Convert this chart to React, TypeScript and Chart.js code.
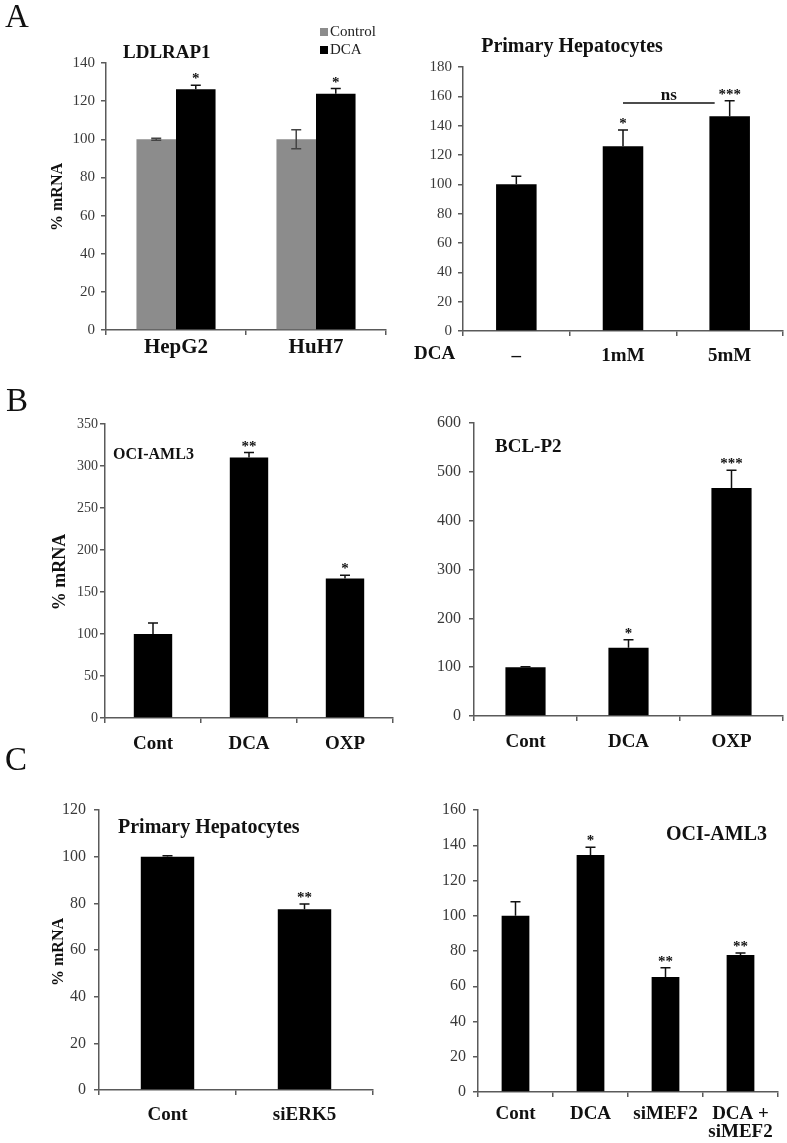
import React, { useEffect, useRef } from "react";
import { Chart, registerables } from "chart.js";
Chart.register(...registerables);

const FONT = '"Liberation Serif", "Times New Roman", Times, serif';

// ---------- Panel A (left): LDLRAP1 ----------
const aLeftCategories = ["HepG2", "HuH7"];
const aLeftControl = [100, 100];
const aLeftControlErr = [0.5, 5];
const aLeftDCA = [126.3, 123.9];
const aLeftDCAErr = [2, 2.7];
const aLeftDCAStars = ["*", "*"];

// ---------- Panel A (right): Primary Hepatocytes ----------
const aRightCategories = ["–", "1mM", "5mM"];
const aRightValues = [100, 126, 146.5];
const aRightErr = [5.5, 11, 10.5];
const aRightStars = ["", "*", "***"];
const aRightNsValue = 155.5;

// ---------- Panel B (left): OCI-AML3 ----------
const bLeftCategories = ["Cont", "DCA", "OXP"];
const bLeftValues = [100, 310, 166];
const bLeftErr = [13, 6, 4];
const bLeftStars = ["", "**", "*"];

// ---------- Panel B (right): BCL-P2 ----------
const bRightCategories = ["Cont", "DCA", "OXP"];
const bRightValues = [100, 140, 467];
const bRightErr = [1, 16, 36];
const bRightStars = ["", "*", "***"];

// ---------- Panel C (left): Primary Hepatocytes ----------
const cLeftCategories = ["Cont", "siERK5"];
const cLeftValues = [100, 77.5];
const cLeftErr = [0.4, 2.2];
const cLeftStars = ["", "**"];

// ---------- Panel C (right): OCI-AML3 ----------
const cRightCategories: (string | string[])[] = ["Cont", "DCA", "siMEF2", ["DCA +", "siMEF2"]];
const cRightValues = [100, 134.5, 65.2, 77.8];
const cRightErr = [8, 4.3, 5.3, 1.1];
const cRightStars = ["", "*", "**", "**"];

type DS = {
  label: string;
  data: number[];
  err: number[];
  color: string;
  errColor: string;
  errBoth?: boolean;
  stars?: string[];
};
type TextItem = {
  text: string;
  x: number;
  y: number;
  size: number;
  bold?: boolean;
  align?: CanvasTextAlign;
  rotate?: boolean;
};
type Spec = {
  left: number;
  top: number;
  width: number;
  height: number;
  yW: number;
  padTop: number;
  padRight: number;
  xH: number;
  labels: (string | string[])[];
  datasets: DS[];
  yMax: number;
  yStep: number;
  yFont: number;
  yPad: number;
  catFont: number;
  catPad: number;
  catLH: number;
  catPct: number;
  barPct: number;
  texts: TextItem[];
  legend?: { x: number; y: number; color: string; text: string }[];
  ns?: { from: number; to: number; value: number; endOffset: number; text: string };
};

const AXIS = "#5a5a5a";

function buildConfig(s: Spec): any {
  const plugin = {
    id: "extras",
    afterDatasetsDraw(chart: any) {
      const ctx = chart.ctx as CanvasRenderingContext2D;
      const ys = chart.scales.y;
      s.datasets.forEach((d, di) => {
        const meta = chart.getDatasetMeta(di);
        d.data.forEach((v, i) => {
          const x = meta.data[i].x;
          const top = ys.getPixelForValue(v + d.err[i]);
          const bot = d.errBoth ? ys.getPixelForValue(v - d.err[i]) : ys.getPixelForValue(v);
          ctx.save();
          ctx.strokeStyle = d.errColor;
          ctx.lineWidth = 1.5;
          ctx.beginPath();
          ctx.moveTo(x, top);
          ctx.lineTo(x, bot);
          ctx.moveTo(x - 5, top);
          ctx.lineTo(x + 5, top);
          if (d.errBoth) {
            ctx.moveTo(x - 5, bot);
            ctx.lineTo(x + 5, bot);
          }
          ctx.stroke();
          if (d.stars && d.stars[i]) {
            ctx.fillStyle = "#111";
            ctx.font = `bold 15px ${FONT}`;
            ctx.textAlign = "center";
            ctx.textBaseline = "alphabetic";
            ctx.fillText(d.stars[i], x, top - 2);
          }
          ctx.restore();
        });
      });
      if (s.ns) {
        const meta = chart.getDatasetMeta(0);
        const x1 = meta.data[s.ns.from].x;
        const x2 = meta.data[s.ns.to].x - s.ns.endOffset;
        const yy = ys.getPixelForValue(s.ns.value);
        ctx.save();
        ctx.strokeStyle = "#111";
        ctx.lineWidth = 1.5;
        ctx.beginPath();
        ctx.moveTo(x1, yy);
        ctx.lineTo(x2, yy);
        ctx.stroke();
        ctx.fillStyle = "#111";
        ctx.font = `bold 17px ${FONT}`;
        ctx.textAlign = "center";
        ctx.textBaseline = "alphabetic";
        ctx.fillText(s.ns.text, (x1 + x2) / 2, yy - 3);
        ctx.restore();
      }
    },
    afterDraw(chart: any) {
      const ctx = chart.ctx as CanvasRenderingContext2D;
      s.texts.forEach((t) => {
        ctx.save();
        ctx.fillStyle = "#111";
        ctx.font = `${t.bold ? "bold " : ""}${t.size}px ${FONT}`;
        ctx.textAlign = t.align || "left";
        ctx.textBaseline = "middle";
        const x = t.x - s.left;
        const y = t.y - s.top;
        if (t.rotate) {
          ctx.translate(x, y);
          ctx.rotate(-Math.PI / 2);
          ctx.fillText(t.text, 0, 0);
        } else {
          ctx.fillText(t.text, x, y);
        }
        ctx.restore();
      });
      if (s.legend) {
        s.legend.forEach((l) => {
          ctx.save();
          ctx.fillStyle = l.color;
          ctx.fillRect(l.x - s.left, l.y - s.top - 4, 8, 8);
          ctx.fillStyle = "#222";
          ctx.font = `15px ${FONT}`;
          ctx.textAlign = "left";
          ctx.textBaseline = "middle";
          ctx.fillText(l.text, l.x - s.left + 10, l.y - s.top);
          ctx.restore();
        });
      }
    },
  };

  return {
    type: "bar",
    data: {
      labels: s.labels,
      datasets: s.datasets.map((d) => ({
        label: d.label,
        data: d.data,
        backgroundColor: d.color,
        borderWidth: 0,
        categoryPercentage: s.catPct,
        barPercentage: s.barPct,
      })),
    },
    options: {
      animation: false,
      responsive: false,
      events: [],
      layout: { padding: { top: s.padTop, right: s.padRight, left: 0, bottom: 0 } },
      plugins: { legend: { display: false }, tooltip: { enabled: false }, title: { display: false } },
      scales: {
        x: {
          grid: {
            display: true,
            drawOnChartArea: false,
            drawTicks: true,
            tickLength: 5,
            offset: true,
            color: AXIS,
            lineWidth: 1.5,
          },
          border: { display: true, color: AXIS, width: 1.5 },
          ticks: {
            color: "#111",
            padding: s.catPad,
            maxRotation: 0,
            autoSkip: false,
            font: { family: FONT, size: s.catFont, weight: "bold", lineHeight: s.catLH },
          },
          afterFit: (sc: any) => {
            sc.height = s.xH;
          },
        },
        y: {
          min: 0,
          max: s.yMax,
          grid: { display: true, drawOnChartArea: false, drawTicks: true, tickLength: 5, color: AXIS, lineWidth: 1.5 },
          border: { display: true, color: AXIS, width: 1.5 },
          ticks: {
            stepSize: s.yStep,
            color: "#3a3a3a",
            padding: s.yPad,
            font: { family: FONT, size: s.yFont },
          },
          afterFit: (sc: any) => {
            sc.width = s.yW;
          },
        },
      },
    },
    plugins: [plugin],
  };
}

const specs: Spec[] = [
  {
    left: 0, top: 0, width: 395, height: 375,
    yW: 106, padTop: 63, padRight: 9, xH: 45,
    labels: aLeftCategories,
    datasets: [
      { label: "Control", data: aLeftControl, err: aLeftControlErr, color: "#8c8c8c", errColor: "#444", errBoth: true },
      { label: "DCA", data: aLeftDCA, err: aLeftDCAErr, color: "#000", errColor: "#111", stars: aLeftDCAStars },
    ],
    yMax: 140, yStep: 20, yFont: 15, yPad: 6,
    catFont: 21, catPad: 0, catLH: 1.2, catPct: 0.565, barPct: 1,
    texts: [
      { text: "LDLRAP1", x: 123, y: 53, size: 19, bold: true },
      { text: "% mRNA", x: 58, y: 197, size: 16, bold: true, rotate: true, align: "center" },
    ],
    legend: [
      { x: 320, y: 32, color: "#8c8c8c", text: "Control" },
      { x: 320, y: 50, color: "#000", text: "DCA" },
    ],
  },
  {
    left: 395, top: 0, width: 392, height: 375,
    yW: 68, padTop: 67, padRight: 4, xH: 44,
    labels: aRightCategories,
    datasets: [{ label: "DCA", data: aRightValues, err: aRightErr, color: "#000", errColor: "#111", stars: aRightStars }],
    yMax: 180, yStep: 20, yFont: 15, yPad: 6,
    catFont: 19, catPad: 9, catLH: 1.2, catPct: 1, barPct: 0.38,
    texts: [
      { text: "Primary Hepatocytes", x: 572, y: 47, size: 20, bold: true, align: "center" },
      { text: "DCA", x: 414, y: 354, size: 19, bold: true },
    ],
    ns: { from: 1, to: 2, value: aRightNsValue, endOffset: 15, text: "ns" },
  },
  {
    left: 0, top: 375, width: 395, height: 380,
    yW: 105, padTop: 49, padRight: 2, xH: 37,
    labels: bLeftCategories,
    datasets: [{ label: "OCI-AML3", data: bLeftValues, err: bLeftErr, color: "#000", errColor: "#111", stars: bLeftStars }],
    yMax: 350, yStep: 50, yFont: 14, yPad: 2,
    catFont: 19, catPad: 10, catLH: 1.2, catPct: 1, barPct: 0.4,
    texts: [
      { text: "OCI-AML3", x: 113, y: 455, size: 16, bold: true },
      { text: "% mRNA", x: 60, y: 572, size: 18, bold: true, rotate: true, align: "center" },
    ],
  },
  {
    left: 395, top: 375, width: 392, height: 380,
    yW: 79, padTop: 48, padRight: 4, xH: 39,
    labels: bRightCategories,
    datasets: [{ label: "BCL-P2", data: bRightValues, err: bRightErr, color: "#000", errColor: "#111", stars: bRightStars }],
    yMax: 600, yStep: 100, yFont: 16, yPad: 8,
    catFont: 19, catPad: 10, catLH: 1.2, catPct: 1, barPct: 0.39,
    texts: [{ text: "BCL-P2", x: 495, y: 447, size: 19, bold: true }],
  },
  {
    left: 0, top: 755, width: 395, height: 388,
    yW: 99, padTop: 55, padRight: 22, xH: 53,
    labels: cLeftCategories,
    datasets: [{ label: "Primary Hepatocytes", data: cLeftValues, err: cLeftErr, color: "#000", errColor: "#111", stars: cLeftStars }],
    yMax: 120, yStep: 20, yFont: 16, yPad: 8,
    catFont: 19, catPad: 9, catLH: 1.2, catPct: 1, barPct: 0.39,
    texts: [
      { text: "Primary Hepatocytes", x: 118, y: 828, size: 20, bold: true },
      { text: "% mRNA", x: 59, y: 952, size: 16, bold: true, rotate: true, align: "center" },
    ],
  },
  {
    left: 395, top: 755, width: 392, height: 388,
    yW: 83, padTop: 55, padRight: 9, xH: 51,
    labels: cRightCategories,
    datasets: [{ label: "OCI-AML3", data: cRightValues, err: cRightErr, color: "#000", errColor: "#111", stars: cRightStars }],
    yMax: 160, yStep: 20, yFont: 16, yPad: 7,
    catFont: 19, catPad: 9, catLH: 0.9, catPct: 1, barPct: 0.37,
    texts: [{ text: "OCI-AML3", x: 767, y: 835, size: 20, bold: true, align: "right" }],
  },
];

function Panel({ spec }: { spec: Spec }) {
  const ref = useRef<HTMLCanvasElement>(null);
  useEffect(() => {
    if (!ref.current) return;
    const chart = new Chart(ref.current, buildConfig(spec));
    return () => chart.destroy();
  }, [spec]);
  return (
    <canvas
      ref={ref}
      width={spec.width}
      height={spec.height}
      style={{ position: "absolute", left: spec.left, top: spec.top, width: spec.width, height: spec.height, display: "block" }}
    />
  );
}

const letterStyle = (left: number, top: number): React.CSSProperties => ({
  position: "absolute",
  left,
  top,
  fontFamily: FONT,
  fontSize: 33,
  lineHeight: 1,
  color: "#111",
});

export default function App() {
  return (
    <div style={{ position: "absolute", left: 0, top: 0, width: 787, height: 1143, background: "#fff", overflow: "hidden" }}>
      {specs.map((s, i) => (
        <Panel key={i} spec={s} />
      ))}
      <div style={letterStyle(5, 0)}>A</div>
      <div style={letterStyle(6, 384)}>B</div>
      <div style={letterStyle(5, 743)}>C</div>
    </div>
  );
}
